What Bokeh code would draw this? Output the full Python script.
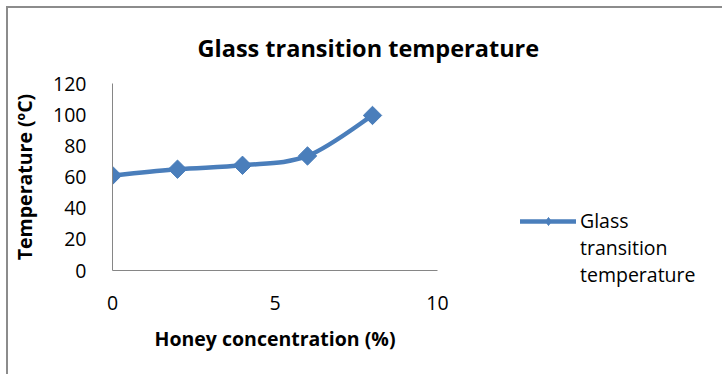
from bokeh.plotting import figure
from bokeh.models import (Range1d, Legend, LegendItem, FixedTicker, Title,
                          CDSView, IndexFilter, ColumnDataSource)
from bokeh.embed import file_html
from bokeh.resources import INLINE
import numpy as np

# Data
honey = [0, 2, 4, 6, 8]
tg = [61, 65, 67.5, 73.5, 99.5]
x_ticks = [0, 5, 10]
y_ticks = [0, 20, 40, 60, 80, 100, 120]
title_text = "Glass transition temperature"
x_title = "Honey concentration (%)"
y_title = "Temperature (ºC)"
series_lines = ["Glass", "transition", "temperature"]

FONT = "Open Sans"
BLUE = "#4a7ebb"
GREY = "#868686"

p = figure(frame_width=325, frame_height=187, output_backend="svg", toolbar_location=None,
           x_range=Range1d(0, 10), y_range=Range1d(0, 120),
           min_border_left=103, min_border_right=286,
           min_border_top=75, min_border_bottom=104)
p.styles = {"margin-left": "6px", "margin-top": "6px",
            "border-left": "2px solid #8c8c8c", "border-top": "2px solid #8c8c8c"}
p.outline_line_color = None
p.grid.visible = False
p.background_fill_color = "white"
p.border_fill_color = "white"

for ax in (p.xaxis[0], p.yaxis[0]):
    ax.axis_line_color = GREY
    ax.axis_line_width = 1
    ax.major_tick_line_color = None
    ax.minor_tick_line_color = None
    ax.major_label_text_font = FONT
    ax.major_label_text_font_size = "19.5px"
    ax.major_label_text_color = "black"
    ax.axis_label_text_font = FONT
    ax.axis_label_text_font_style = "bold"
    ax.axis_label_text_font_size = "19.5px"
    ax.axis_label_text_color = "black"

p.xaxis.ticker = FixedTicker(ticks=x_ticks)
p.yaxis.ticker = FixedTicker(ticks=y_ticks)
p.xaxis.major_label_standoff = 19
p.yaxis.major_label_standoff = 20
p.xaxis.axis_label = x_title
p.yaxis.axis_label = y_title
p.xaxis.axis_label_standoff = 12
p.yaxis.axis_label_standoff = 12

# smoothed line (Excel-style Catmull-Rom bezier)
xs = np.array(honey, dtype=float)
ys = np.array(tg, dtype=float)
n = len(xs)
px = np.concatenate([[xs[0]], xs, [xs[-1]]])
py = np.concatenate([[ys[0]], ys, [ys[-1]]])
x0 = xs[:-1]; y0 = ys[:-1]; x1 = xs[1:]; y1 = ys[1:]
cx0 = px[1:n] + (px[2:n+1] - px[0:n-1]) / 6
cy0 = py[1:n] + (py[2:n+1] - py[0:n-1]) / 6
cx1 = px[2:n+1] - (px[3:n+2] - px[1:n]) / 6
cy1 = py[2:n+1] - (py[3:n+2] - py[1:n]) / 6
bz = p.bezier(x0=x0, y0=y0, x1=x1, y1=y1, cx0=cx0, cy0=cy0, cx1=cx1, cy1=cy1,
              line_color=BLUE, line_width=4.5, line_cap="round")
# smaller legend marker, hidden under the plotted markers
lg_mark = p.scatter(honey, tg, marker="diamond", size=11,
                    fill_color=BLUE, line_color=BLUE)
sc = p.scatter(honey, tg, marker="square", angle=np.pi / 4, size=13,
               fill_color=BLUE, line_color=BLUE)

src = ColumnDataSource(dict(x=honey, y=tg))
blank = p.scatter("x", "y", source=src, view=CDSView(filter=IndexFilter([])),
                  fill_alpha=0, line_alpha=0)
items = [LegendItem(label=series_lines[0], renderers=[bz, lg_mark])]
items += [LegendItem(label=t, renderers=[blank]) for t in series_lines[1:]]
legend = Legend(items=items,
                location=(83, -18), border_line_color=None, background_fill_alpha=0,
                padding=0, margin=0, spacing=0, glyph_width=56, glyph_height=20,
                label_height=26, label_standoff=4, label_text_font=FONT,
                label_text_font_size="19.5px", label_text_color="black")
p.add_layout(legend, "right")

p.title = Title(text=title_text, align="left", offset=85, standoff=39,
                text_font=FONT, text_font_style="bold", text_font_size="23.5px",
                text_color="black")

open("out.html", "w").write(file_html(p, INLINE))
